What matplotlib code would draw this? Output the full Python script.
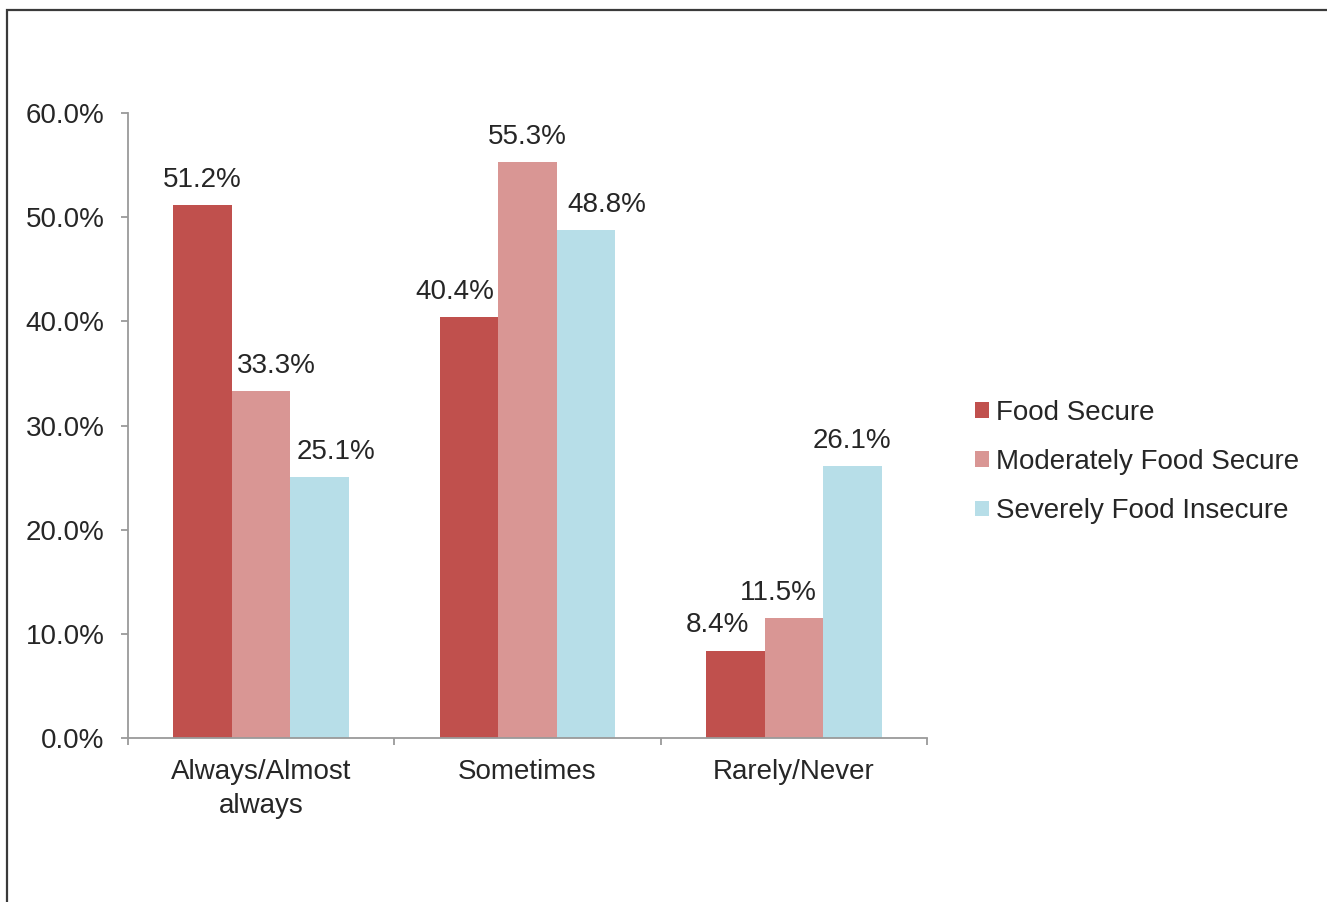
import matplotlib
matplotlib.use("Agg")
import matplotlib.pyplot as plt
from matplotlib.patches import Rectangle, Patch
import numpy as np

categories = ["Always/Almost\nalways", "Sometimes", "Rarely/Never"]
series_names = ["Food Secure", "Moderately Food Secure", "Severely Food Insecure"]
food_secure = [51.2, 40.4, 8.4]
moderately_secure = [33.3, 55.3, 11.5]
severely_insecure = [25.1, 48.8, 26.1]
y_ticks = [0, 10, 20, 30, 40, 50, 60]

colors = ["#C0504D", "#D99694", "#B7DEE8"]
# horizontal nudges (pixels) of data labels, as placed in the reference
label_dx = [[0, -14, -18], [15, 0, -16], [16, 21, 0]]

plt.rcParams['font.family'] = ['Liberation Sans', 'DejaVu Sans']
text_color = "#262626"
fs = 20

W, H = 1327, 902
fig = plt.figure(figsize=(W / 100, H / 100), dpi=100)
fig.patch.set_facecolor("white")

# outer border (top and left visible, rest clipped)
fig.add_artist(Rectangle((7 / W, -0.5), 2.0, 1.5 - 10 / H, transform=fig.transFigure,
                         fill=False, edgecolor="#3a3a3a", linewidth=1.6))

ax = fig.add_axes([128 / W, 1 - 738 / H, (927 - 128) / W, (738 - 113) / H])

x = np.arange(len(categories))
width = 0.22
all_series = [food_secure, moderately_secure, severely_insecure]
for i, (name, vals, col) in enumerate(zip(series_names, all_series, colors)):
    pos = x + (i - 1) * width
    ax.bar(pos, vals, width=width, color=col, label=name, linewidth=0, zorder=2)
    for j, (p, v) in enumerate(zip(pos, vals)):
        ax.annotate(f"{v:.1f}%", (p, v), xytext=(label_dx[i][j], 18),
                    textcoords="offset pixels", ha="center", va="baseline",
                    fontsize=fs, color=text_color)

ax.set_xlim(-0.5, len(categories) - 0.5)
ax.set_ylim(0, 60)
ax.set_yticks(y_ticks)
ax.set_yticklabels([f"{t:.1f}%" for t in y_ticks])

ax.set_xticks(np.arange(-0.5, len(categories), 1.0))
ax.set_xticklabels([])
ax.set_xticks(x, minor=True)
ax.set_xticklabels(categories, minor=True, linespacing=1.4)
ax.tick_params(axis="x", which="major", length=5, width=1.3, color="#9a9a9a", direction="out")
ax.tick_params(axis="x", which="minor", length=0, pad=15, labelsize=fs, labelcolor=text_color)
ax.tick_params(axis="y", length=5, width=1.3, color="#9a9a9a", direction="out",
               pad=12, labelsize=fs, labelcolor=text_color)

for s in ["top", "right"]:
    ax.spines[s].set_visible(False)
for s in ["left", "bottom"]:
    ax.spines[s].set_color("#9a9a9a")
    ax.spines[s].set_linewidth(1.3)

handles = [Patch(facecolor=c, edgecolor="none") for c in colors]
fig.legend(handles, series_names, loc="center left", bbox_to_anchor=(975 / W, 1 - 462 / H),
           frameon=False, fontsize=fs, handlelength=0.5, handleheight=0.5,
           handletextpad=0.25, labelspacing=0.84, borderpad=0, borderaxespad=0,
           labelcolor=text_color)

fig.savefig("out.png", dpi=100, facecolor="white")
